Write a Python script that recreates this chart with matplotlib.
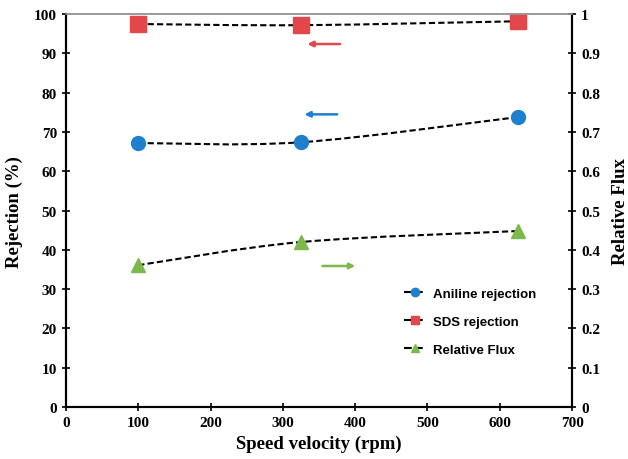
import matplotlib
matplotlib.use('Agg')
import matplotlib.pyplot as plt
from matplotlib.path import Path
from matplotlib.patches import PathPatch
from matplotlib.ticker import FuncFormatter

speed = [100, 325, 625]
aniline = [67.2, 67.4, 73.8]
sds = [97.5, 97.2, 98.2]
flux = [0.361, 0.420, 0.448]

blue = '#1f7fcf'
red = '#e2474b'
green = '#7cb84a'

serif = 'Liberation Serif'
sans = 'Liberation Sans'


def smooth_path(xs, ys):
    # Bezier through the points (Excel-like smoothed line)
    n = len(xs)
    verts = [(xs[0], ys[0])]
    codes = [Path.MOVETO]
    for i in range(n - 1):
        x0, y0 = xs[max(i - 1, 0)], ys[max(i - 1, 0)]
        x1, y1 = xs[i], ys[i]
        x2, y2 = xs[i + 1], ys[i + 1]
        x3, y3 = xs[min(i + 2, n - 1)], ys[min(i + 2, n - 1)]
        c1 = (x1 + (x2 - x0) / 6, y1 + (y2 - y0) / 6)
        c2 = (x2 - (x3 - x1) / 6, y2 - (y3 - y1) / 6)
        verts += [c1, c2, (x2, y2)]
        codes += [Path.CURVE4] * 3
    return Path(verts, codes)


fig = plt.figure(figsize=(6.28, 4.6), dpi=100)
ax = fig.add_axes([0.105, 0.113, 0.806, 0.854])
ax2 = ax.twinx()

for ys, a in [(aniline, ax), (sds, ax), (flux, ax2)]:
    a.add_patch(PathPatch(smooth_path(speed, ys), fill=False, ec='black',
                          lw=1.5, ls=(0, (3, 1.5)), zorder=2))

ax.plot(speed, aniline, 'o', color=blue, ms=10, zorder=3)
ax.plot(speed, sds, 's', color=red, ms=11, zorder=3)
ax2.plot(speed, flux, '^', color=green, ms=10, zorder=3)

# legend handles
h1, = ax.plot([], [], '--o', color='black', mfc=blue, mec=blue, ms=6, lw=1.5)
h2, = ax.plot([], [], '--s', color='black', mfc=red, mec=red, ms=6, lw=1.5)
h3, = ax.plot([], [], '--^', color='black', mfc=green, mec=green, ms=6, lw=1.5)
ax.legend([h1, h2, h3], ['Aniline rejection', 'SDS rejection', 'Relative Flux'],
          loc='upper left', bbox_to_anchor=(0.645, 0.335), frameon=False,
          handlelength=1.6, labelspacing=1.2, handletextpad=0.6,
          prop={'family': sans, 'weight': 'bold', 'size': 9.5})

# arrows pointing to the axes
ax.annotate('', xy=(330, 92.4), xytext=(383, 92.4),
            arrowprops=dict(arrowstyle='-|>', color=red, lw=1.8, mutation_scale=8))
ax.annotate('', xy=(326, 74.5), xytext=(379, 74.5),
            arrowprops=dict(arrowstyle='-|>', color=blue, lw=1.8, mutation_scale=8))
ax2.annotate('', xy=(404, 0.359), xytext=(351, 0.359),
             arrowprops=dict(arrowstyle='-|>', color=green, lw=1.8, mutation_scale=8))

ax.set_xlim(0, 700)
ax.set_ylim(0, 100)
ax2.set_ylim(0, 1)
ax.set_xticks(range(0, 701, 100))
ax.set_yticks(range(0, 101, 10))
ax2.set_yticks([i / 10 for i in range(11)])
ax2.yaxis.set_major_formatter(FuncFormatter(lambda v, p: f'{v:g}'))

for a in (ax, ax2):
    for s in a.spines.values():
        s.set_linewidth(1.5)
    a.spines['top'].set_color('#999999')
    a.spines['top'].set_linewidth(1.2)
    a.tick_params(direction='inout', length=6, width=1.2, labelsize=11)
    for lab in a.get_xticklabels() + a.get_yticklabels():
        lab.set_family(serif)
        lab.set_fontweight('bold')

ax.set_xlabel('Speed velocity (rpm)', family=serif, fontweight='bold', fontsize=13.5)
ax.set_ylabel('Rejection (%)', family=serif, fontweight='bold', fontsize=13.5,
              va='center')
ax2.set_ylabel('Relative Flux', family=serif, fontweight='bold', fontsize=13.5,
               rotation=90, va='center')
ax.yaxis.set_label_coords(-0.102, 0.5)
ax2.yaxis.set_label_coords(1.095, 0.5)

fig.savefig('out.png', dpi=100)
